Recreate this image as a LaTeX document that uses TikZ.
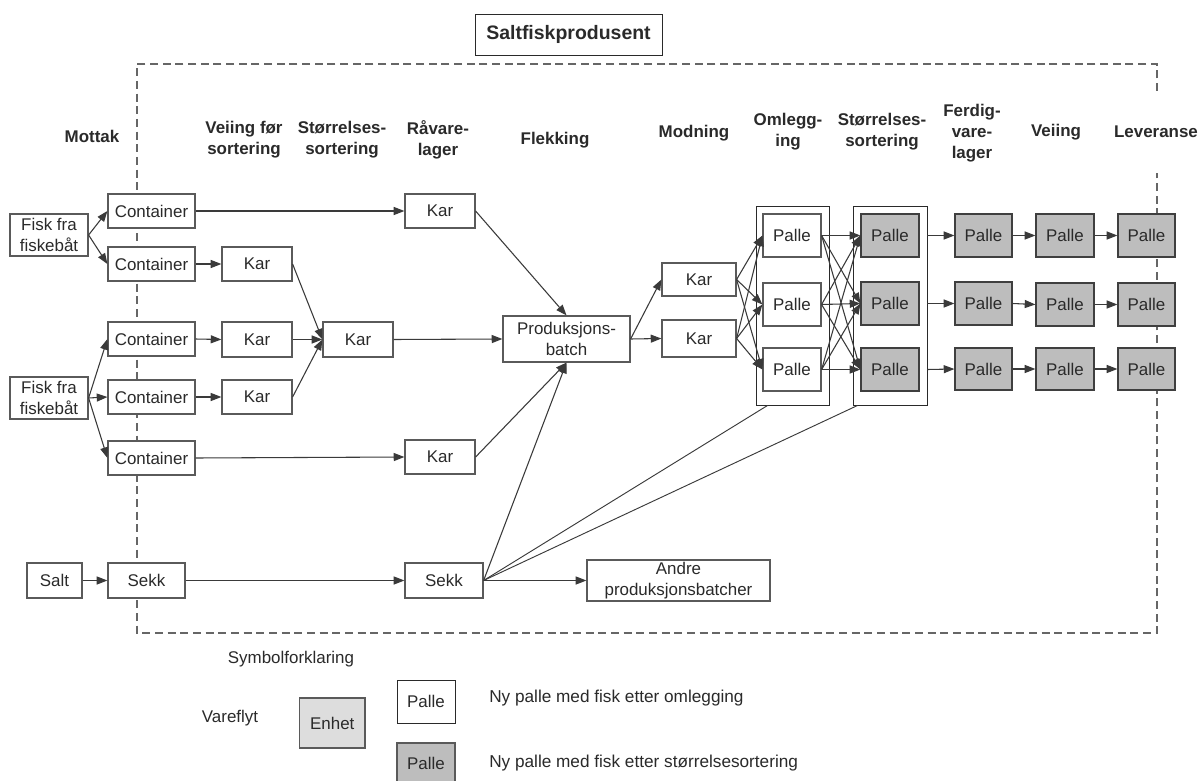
\documentclass[tikz,border=0pt]{standalone}
\usepackage{fontspec}
\setmainfont{Liberation Sans}
\usetikzlibrary{arrows.meta,calc}
\definecolor{ink}{HTML}{2A2A2A}
\definecolor{edgec}{HTML}{5A5A5A}
\definecolor{linec}{HTML}{3A3A3A}
\definecolor{dashc}{HTML}{666666}
\definecolor{greyfill}{HTML}{BDBDBD}
\definecolor{lightfill}{HTML}{DDDDDD}
\newcommand{\bodyfs}{\fontsize{12.7}{15.6}\selectfont}
\newcommand{\mybox}[6]{% name,x1,y1,x2,y2,options
  \pgfmathsetmacro{\bw}{(#4-#2)*0.75}\pgfmathsetmacro{\bh}{(#5-#3)*0.75}
  \node[boxbase,minimum width=\bw pt,minimum height=\bh pt,#6] (#1) at ({(#2+#4)/2},{(#3+#5)/2})}
\tikzset{
  boxbase/.style={draw=edgec,line width=0.9pt,fill=white,inner sep=0pt,align=center,text=ink,font=\bodyfs},
  greybox/.style={fill=greyfill,draw=ink!90},
  plainbox/.style={draw=ink,line width=0.7pt,fill=white},
  flow/.style={draw=linec,line width=0.8pt,-{Triangle[length=8pt,width=6pt]}},
  plainline/.style={draw=linec,line width=0.7pt},
  boundary/.style={draw=dashc,line width=0.9pt,dash pattern=on 6pt off 3.5pt},
  header/.style={align=center,font=\bfseries\bodyfs,text=ink,inner sep=0pt},
  label/.style={align=center,font=\bodyfs,text=ink,inner sep=0pt},
  legendtext/.style={anchor=west,font=\fontsize{12.9}{15}\selectfont,text=ink,inner sep=0pt}
}
\begin{document}
\begin{tikzpicture}[x=0.75pt,y=-0.75pt]
\useasboundingbox (0,0) rectangle (1199,781);
\fill[white] (0,0) rectangle (1199,781);

% system boundary
\coordinate (bTL) at (137,64);
\coordinate (bTR) at (1157,64);
\coordinate (bBL) at (137,633);
\coordinate (bBR) at (1157,633);
\coordinate (bR1) at (1157,91);
\coordinate (bR2) at (1157,173);
\draw[boundary] (bR1) -- (bTR) -- (bTL) -- (bBL) -- (bBR) -- (bR2);

% title
\mybox{title}{475}{14}{662}{55}{plainbox,font=\bfseries\fontsize{14.6}{16}\selectfont}{Saltfiskprodusent};

% headers
\node[header] (h1) at (92,136) {Mottak};
\node[header] (h2) at (244,140) {Veiing før\\sortering};
\node[header] (h3) at (342,140) {Størrelses-\\sortering};
\node[header] (h4) at (438,140) {Råvare-\\lager};
\node[header] (h5) at (555,140) {Flekking};
\node[header] (h6) at (694,133) {Modning};
\node[header] (h7) at (788,132) {Omlegg-\\ing};
\node[header] (h8) at (882,132) {Størrelses-\\sortering};
\node[header] (h9) at (972,133) {Ferdig-\\vare-\\lager};
\node[header] (h10) at (1056,132) {Veiing};
\node[header] (h11) at (1156,132) {Leveranse};

% sources
\mybox{f1}{10}{214}{88}{256}{}{Fisk fra\\fiskebåt};
\mybox{f2}{10}{377}{88}{419}{}{Fisk fra\\fiskebåt};
\mybox{salt}{27}{563}{82}{598}{}{Salt};

% containers
\mybox{c1}{108}{194}{195}{228}{}{Container};
\mybox{c2}{108}{247}{195}{281}{}{Container};
\mybox{c3}{108}{322}{195}{356}{}{Container};
\mybox{c4}{108}{380}{195}{414}{}{Container};
\mybox{c5}{108}{441}{195}{475}{}{Container};
\mybox{s1}{108}{563}{185}{598}{}{Sekk};

% kar
\mybox{k2}{222}{247}{292}{281}{}{Kar};
\mybox{k3}{222}{322}{292}{357}{}{Kar};
\mybox{k4}{222}{380}{292}{414}{}{Kar};
\mybox{km}{323}{322}{393}{357}{}{Kar};
\mybox{kt}{405}{194}{475}{228}{}{Kar};
\mybox{kb}{405}{440}{475}{474}{}{Kar};
\mybox{s2}{405}{563}{483}{598}{}{Sekk};
\mybox{prod}{503}{316}{630}{362}{}{Produksjons-\\batch};
\mybox{ka}{662}{263}{736}{296}{}{Kar};
\mybox{kbb}{662}{320}{736}{357}{}{Kar};
\mybox{andre}{587}{560}{770}{601}{}{Andre\\produksjonsbatcher};

% outer groups
\mybox{o1}{756}{206}{829}{405}{plainbox}{};
\mybox{o2}{853}{206}{927}{405}{plainbox}{};

% palle columns
\mybox{p1}{763}{214}{821}{257}{}{Palle};
\mybox{p2}{763}{283}{821}{326}{}{Palle};
\mybox{p3}{763}{348}{821}{391}{}{Palle};
\mybox{g1}{861}{214}{919}{257}{greybox}{Palle};
\mybox{g2}{861}{282}{919}{325}{greybox}{Palle};
\mybox{g3}{861}{348}{919}{391}{greybox}{Palle};
\mybox{u1}{955}{214}{1012}{257}{greybox}{Palle};
\mybox{u2}{955}{282}{1012}{325}{greybox}{Palle};
\mybox{u3}{955}{348}{1012}{390}{greybox}{Palle};
\mybox{v1}{1036}{214}{1094}{257}{greybox}{Palle};
\mybox{v2}{1036}{283}{1094}{326}{greybox}{Palle};
\mybox{v3}{1036}{348}{1094}{390}{greybox}{Palle};
\mybox{w1}{1118}{214}{1175}{257}{greybox}{Palle};
\mybox{w2}{1118}{283}{1175}{326}{greybox}{Palle};
\mybox{w3}{1118}{348}{1175}{390}{greybox}{Palle};

% connectors: intake
\draw[flow] (f1.east) -- (c1.west);
\draw[flow] (f1.east) -- (c2.west);
\draw[flow] (f2.east) -- (c3.west);
\draw[flow] (f2.east) -- (c4.west);
\draw[flow] (f2.east) -- (c5.west);
\draw[flow] (salt.east) -- (s1.west);
\draw[flow] (c1.east) -- (kt.west);
\draw[flow] (c2.east) -- (k2.west);
\draw[flow] (c3.east) -- (k3.west);
\draw[flow] (c4.east) -- (k4.west);
\draw[flow] (c5.east) -- (kb.west);
\draw[flow] (s1.east) -- (s2.west);
\draw[flow] (k2.east) -- (km.west);
\draw[flow] (k3.east) -- (km.west);
\draw[flow] (k4.east) -- (km.west);
\draw[flow] (km.east) -- (prod.west);
\draw[flow] (kt.east) -- (prod.north);
\draw[flow] (kb.east) -- (prod.south);
\draw[flow] (s2.east) -- (prod.south);
\draw[flow] (s2.east) -- (andre.west);
\draw[flow] (prod.east) -- (ka.west);
\draw[flow] (prod.east) -- (kbb.west);

% maturing to re-stacking
\foreach \src in {ka,kbb}{\foreach \dst in {p1,p2,p3}{\draw[flow] (\src.east) -- (\dst.west);}}
\foreach \src in {p1,p2,p3}{\foreach \dst in {g1,g2,g3}{\draw[flow] (\src.east) -- (\dst.west);}}

% finished rows
\draw[flow] (o2.east |- g1.east) -- (u1.west);
\draw[flow] (o2.east |- g2.east) -- (u2.west);
\draw[flow] (o2.east |- g3.east) -- (u3.west);
\draw[flow] (u1.east) -- (v1.west);
\draw[flow] (u2.east) -- (v2.west);
\draw[flow] (u3.east) -- (v3.west);
\draw[flow] (v1.east) -- (w1.west);
\draw[flow] (v2.east) -- (w2.west);
\draw[flow] (v3.east) -- (w3.west);

% salt lines to the groups
\coordinate (o1foot) at ($(o1.south west)+(12,0)$);
\coordinate (o2foot) at ($(o2.south west)+(5,0)$);
\draw[plainline] (s2.east) -- (o1foot);
\draw[plainline] (s2.east) -- (o2foot);

% legend
\node[label] (lg0) at (291,659) {Symbolforklaring};
\node[label] (lg1) at (230,718) {Vareflyt};
\mybox{enh}{299.5}{698}{365}{748}{fill=lightfill}{Enhet};
\mybox{lgw}{397}{680}{455}{723}{plainbox}{Palle};
\mybox{lgg}{397}{743}{455}{783}{greybox,draw=edgec}{Palle};
\node[legendtext] (lt1) at (489,698) {Ny palle med fisk etter omlegging};
\node[legendtext] (lt2) at (489,763) {Ny palle med fisk etter størrelsesortering};
\end{tikzpicture}
\end{document}
